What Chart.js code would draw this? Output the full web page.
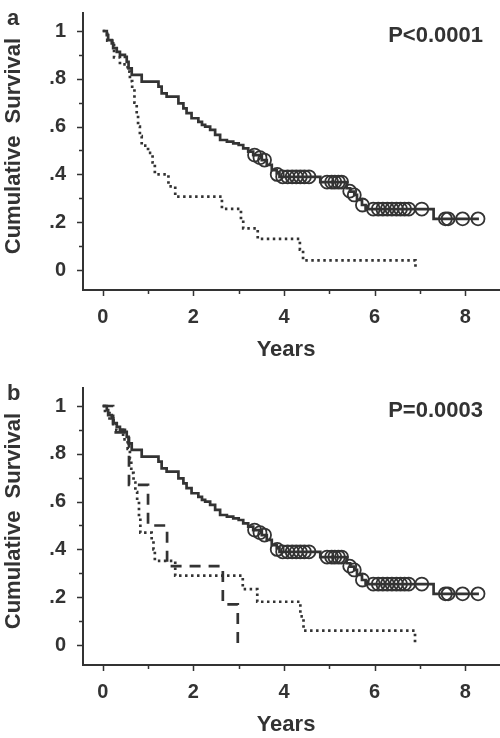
<!DOCTYPE html>
<html>
<head>
<meta charset="utf-8">
<script src="https://cdn.jsdelivr.net/npm/chart.js@4.4.1/dist/chart.umd.min.js"></script>
<style>
  body { margin: 0; background: #fff; }
  .panel { position: absolute; left: 0; width: 500px; }
  #panelA { top: 0; height: 375px; }
  #panelB { top: 375px; height: 363px; }
</style>
</head>
<body>
<div class="panel" id="panelA"><canvas id="chartA"></canvas></div>
<div class="panel" id="panelB"><canvas id="chartB"></canvas></div>
<script>
// axis ticks
const xTicks = [0, 1, 2, 3, 4, 5, 6, 7, 8];
const xTickLabels = ['0', '', '2', '', '4', '', '6', '', '8'];
const yTicks = [0, 0.1, 0.2, 0.3, 0.4, 0.5, 0.6, 0.7, 0.8, 0.9, 1];
const yTickLabels = ['0', '', '.2', '', '.4', '', '.6', '', '.8', '', '1'];

// solid curve (same in both panels): time in years, cumulative survival
const solidTime = [0, 0.09, 0.12, 0.2, 0.23, 0.31, 0.38, 0.49, 0.53, 0.57, 0.64, 0.86, 1.23, 1.3, 1.41,
  1.67, 1.78, 1.85, 1.96, 2.11, 2.19, 2.26, 2.37, 2.48, 2.59, 2.74, 2.88, 3.0, 3.1, 3.21, 3.32, 3.51,
  3.62, 3.73, 3.84, 3.9, 4.8, 5.38, 5.46, 5.55, 5.61, 5.72, 5.8, 7.3, 8.3];
const solidSurv = [1, 0.983, 0.962, 0.948, 0.928, 0.913, 0.9, 0.892, 0.871, 0.844, 0.816, 0.788, 0.767, 0.739, 0.725,
  0.697, 0.676, 0.656, 0.635, 0.62, 0.607, 0.6, 0.586, 0.565, 0.544, 0.537, 0.53, 0.523, 0.509, 0.495, 0.481, 0.46,
  0.44, 0.418, 0.405, 0.39, 0.368, 0.342, 0.328, 0.314, 0.293, 0.272, 0.255, 0.214, 0.214];

// censored cases on the solid curve
const censorTime = [3.35, 3.47, 3.57, 3.85, 3.97, 4.08, 4.18, 4.27, 4.36, 4.45, 4.55, 4.95, 5.05, 5.12, 5.2, 5.27,
  5.45, 5.55, 5.73, 5.97, 6.08, 6.18, 6.28, 6.38, 6.48, 6.57, 6.66, 6.75, 7.04, 7.56, 7.62, 7.94, 8.28];
const censorSurv = [0.481, 0.47, 0.46, 0.4, 0.39, 0.39, 0.39, 0.39, 0.39, 0.39, 0.39, 0.368, 0.368, 0.368, 0.368, 0.368,
  0.33, 0.314, 0.272, 0.255, 0.255, 0.255, 0.255, 0.255, 0.255, 0.255, 0.255, 0.255, 0.255, 0.214, 0.214, 0.214, 0.214];

// panel a, dotted curve
const dotATime = [0, 0.1, 0.25, 0.38, 0.55, 0.6, 0.65, 0.7, 0.75, 0.78, 0.82, 0.86, 1.0, 1.1, 1.15, 1.45, 1.6,
  2.63, 3.05, 3.1, 3.42, 4.35, 4.42, 6.9];
const dotASurv = [1, 0.96, 0.89, 0.86, 0.83, 0.79, 0.76, 0.7, 0.65, 0.6, 0.56, 0.52, 0.49, 0.45, 0.4, 0.35, 0.307,
  0.256, 0.21, 0.174, 0.13, 0.085, 0.04, 0];

// panel b, dotted curve
const dotBTime = [0, 0.05, 0.15, 0.3, 0.45, 0.55, 0.6, 0.63, 0.68, 0.72, 0.76, 0.8, 0.83, 1.08, 1.12, 1.15, 1.6,
  3.09, 3.41, 4.36, 4.43, 6.89];
const dotBSurv = [1, 0.97, 0.94, 0.9, 0.86, 0.82, 0.78, 0.72, 0.68, 0.64, 0.6, 0.53, 0.47, 0.44, 0.4, 0.352, 0.29,
  0.234, 0.181, 0.12, 0.06, 0];

// panel b, dashed curve
const dashBTime = [0, 0.23, 0.58, 1.0, 1.42, 2.65, 2.98];
const dashBSurv = [1, 0.89, 0.67, 0.5, 0.33, 0.17, 0];

const ink = '#333';
const fontName = '"Liberation Sans", Arial, sans-serif';
const tickFont = { family: fontName, size: 20, weight: 'bold' };

function points(xs, ys) {
  return xs.map((x, i) => ({ x: x, y: ys[i] }));
}

function curve(xs, ys, dash) {
  return {
    type: 'line',
    data: points(xs, ys),
    stepped: 'before',
    borderColor: ink,
    borderWidth: 2.7,
    borderDash: dash,
    borderCapStyle: 'butt',
    pointRadius: 0,
    fill: false
  };
}

function censorSet() {
  return {
    type: 'scatter',
    data: points(censorTime, censorSurv),
    pointStyle: 'circle',
    pointRadius: 6.5,
    pointBorderWidth: 1.8,
    borderColor: ink,
    backgroundColor: 'rgba(0,0,0,0)'
  };
}

// tick marks (minor ones shorter), axis titles, panel letter and p value
const panelText = {
  id: 'panelText',
  afterDraw(chart, args, opts) {
    const ctx = chart.ctx;
    const xs = chart.scales.x, ys = chart.scales.y;
    const area = chart.chartArea;
    ctx.save();
    ctx.strokeStyle = ink;
    ctx.lineWidth = 1.5;
    ctx.beginPath();
    xTicks.forEach((v, i) => {
      const px = Math.round(xs.getPixelForValue(v)) + 0.5;
      const len = xTickLabels[i] ? 6 : 4;
      ctx.moveTo(px, area.bottom);
      ctx.lineTo(px, area.bottom + len);
    });
    yTicks.forEach((v, i) => {
      const py = Math.round(ys.getPixelForValue(v)) + 0.5;
      const len = yTickLabels[i] ? 6 : 4;
      ctx.moveTo(area.left, py);
      ctx.lineTo(area.left - len, py);
    });
    ctx.stroke();

    ctx.fillStyle = ink;
    ctx.font = 'bold 22px ' + fontName;
    ctx.textBaseline = 'alphabetic';
    ctx.textAlign = 'left';
    ctx.fillText(opts.letter, 7, 25);
    ctx.textAlign = 'right';
    ctx.fillText(opts.pValue, 483, 41.5);
    ctx.textAlign = 'center';
    ctx.fillText('Years', 286, 356);

    ctx.translate(14, 146);
    ctx.rotate(-Math.PI / 2);
    ctx.textBaseline = 'middle';
    ctx.fillText('Cumulative  Survival', 0, 0);
    ctx.restore();
  }
};

function noPad(scale) {
  scale.paddingTop = 0;
  scale.paddingBottom = 0;
  scale.paddingLeft = 0;
  scale.paddingRight = 0;
}

function makeChart(id, datasets, letter, pValue, xHeight) {
  return new Chart(document.getElementById(id), {
    data: { datasets: datasets },
    plugins: [panelText],
    options: {
      responsive: true,
      maintainAspectRatio: false,
      animation: false,
      layout: { autoPadding: false, padding: { top: 13, left: 0, right: 0, bottom: 0 } },
      plugins: {
        legend: { display: false },
        tooltip: { enabled: false },
        panelText: { letter: letter, pValue: pValue }
      },
      scales: {
        x: {
          type: 'linear',
          min: -0.435,
          max: 8.765,
          afterBuildTicks: (scale) => { scale.ticks = xTicks.map(v => ({ value: v })); },
          afterFit: (scale) => { scale.height = xHeight; noPad(scale); },
          ticks: {
            autoSkip: false,
            maxRotation: 0,
            padding: 15,
            color: ink,
            font: tickFont,
            callback: (value, index) => xTickLabels[index]
          },
          grid: { drawOnChartArea: false, drawTicks: false },
          border: { display: true, color: ink, width: 2 }
        },
        y: {
          type: 'linear',
          min: -0.0837,
          max: 1.0753,
          afterBuildTicks: (scale) => { scale.ticks = yTicks.map(v => ({ value: v })); },
          afterFit: (scale) => { scale.width = 83; noPad(scale); },
          ticks: {
            autoSkip: false,
            padding: 17,
            color: ink,
            font: tickFont,
            callback: (value, index) => yTickLabels[index]
          },
          grid: { drawOnChartArea: false, drawTicks: false },
          border: { display: true, color: ink, width: 2 }
        }
      }
    }
  });
}

makeChart('chartA', [
  curve(solidTime, solidSurv, []),
  curve(dotATime, dotASurv, [2.5, 3.5]),
  censorSet()
], 'a', 'P<0.0001', 85);

makeChart('chartB', [
  curve(solidTime, solidSurv, []),
  curve(dotBTime, dotBSurv, [2.5, 3.5]),
  curve(dashBTime, dashBSurv, [11, 8]),
  censorSet()
], 'b', 'P=0.0003', 73);
</script>
</body>
</html>
